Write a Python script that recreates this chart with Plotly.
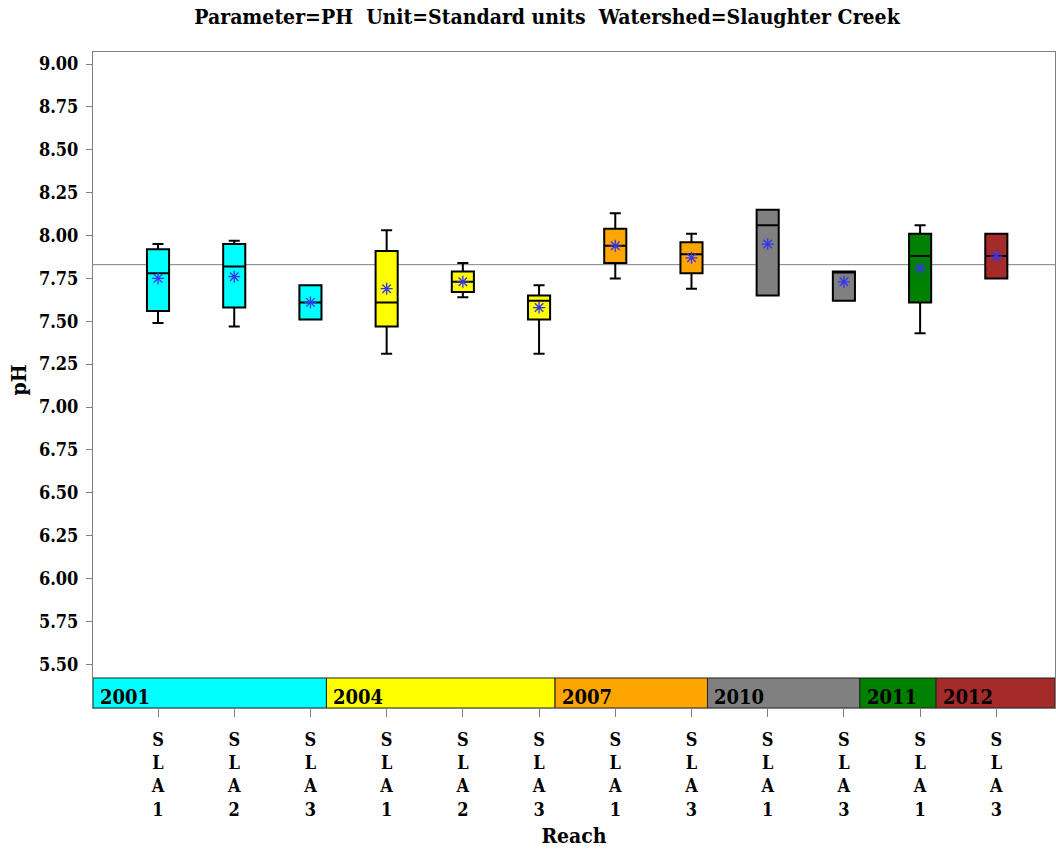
import plotly.graph_objects as go

# Sampling events (year) and reach for each box, left to right
years = ["2001", "2001", "2001", "2004", "2004", "2004",
         "2007", "2007", "2010", "2010", "2011", "2012"]
reaches = ["SLA1", "SLA2", "SLA3", "SLA1", "SLA2", "SLA3",
           "SLA1", "SLA3", "SLA1", "SLA3", "SLA1", "SLA3"]

# pH summary statistics per box
ph_min = [7.49, 7.47, 7.51, 7.31, 7.64, 7.31, 7.75, 7.69, 7.65, 7.62, 7.43, 7.75]
ph_q1 = [7.56, 7.58, 7.51, 7.47, 7.67, 7.51, 7.84, 7.78, 7.65, 7.62, 7.61, 7.75]
ph_median = [7.78, 7.82, 7.61, 7.61, 7.73, 7.62, 7.94, 7.89, 8.06, 7.79, 7.88, 7.88]
ph_q3 = [7.92, 7.95, 7.71, 7.91, 7.79, 7.65, 8.04, 7.96, 8.15, 7.79, 8.01, 8.01]
ph_max = [7.95, 7.97, 7.71, 8.03, 7.84, 7.71, 8.13, 8.01, 8.15, 7.79, 8.06, 8.01]
ph_mean = [7.75, 7.76, 7.61, 7.69, 7.73, 7.58, 7.94, 7.87, 7.95, 7.73, 7.81, 7.88]

# Overall reference level
ref_level = 7.83

year_colors = {
    "2001": "#00FFFF",
    "2004": "#FFFF00",
    "2007": "#FFA500",
    "2010": "#808080",
    "2011": "#008000",
    "2012": "#A52A2A",
}

FONT = "DejaVu Serif Condensed, DejaVu Serif, serif"
positions = list(range(len(reaches)))
x_lo, x_hi = -0.853, 11.77
y_lo, y_hi = 5.245, 9.07
band_top = 5.42
edge_shift = 0.21  # group boundary offset after the last box of each year

fig = go.Figure()

for i, yr in enumerate(years):
    fig.add_trace(go.Box(
        x=[positions[i]],
        lowerfence=[ph_min[i]],
        q1=[ph_q1[i]],
        median=[ph_median[i]],
        q3=[ph_q3[i]],
        upperfence=[ph_max[i]],
        width=0.29,
        whiskerwidth=0.5,
        fillcolor=year_colors[yr],
        line=dict(color="black", width=2),
        showlegend=False,
        hoverinfo="skip",
    ))

fig.add_trace(go.Scatter(
    x=positions, y=ph_mean, mode="markers",
    marker=dict(symbol="asterisk-open", size=10, color="#3535F0",
                line=dict(color="#3535F0", width=1.3)),
    showlegend=False, hoverinfo="skip",
))

shapes = [dict(type="line", xref="x", yref="y", x0=x_lo, x1=x_hi,
               y0=ref_level, y1=ref_level, layer="below",
               line=dict(color="#808080", width=1))]

# Year band along the bottom of the plot
annotations = []
groups = []
for i, yr in enumerate(years):
    if groups and groups[-1][0] == yr:
        groups[-1][2] = i
    else:
        groups.append([yr, i, i])
for g, (yr, first, last) in enumerate(groups):
    left = x_lo if g == 0 else groups[g - 1][2] + edge_shift
    right = x_hi if g == len(groups) - 1 else last + edge_shift
    shapes.append(dict(type="rect", xref="x", yref="y", x0=left, x1=right,
                       y0=y_lo, y1=band_top, fillcolor=year_colors[yr],
                       line=dict(color="#222222", width=1), layer="above"))
    annotations.append(dict(x=left, y=(y_lo + band_top) / 2, xref="x", yref="y",
                            text=yr, showarrow=False, xanchor="left",
                            xshift=5, yshift=-4,
                            font=dict(family=FONT, size=20, color="black",
                                      weight="bold")))

fig.update_layout(
    width=1056, height=854,
    margin=dict(l=93, r=1, t=52, b=146),
    paper_bgcolor="white", plot_bgcolor="white",
    font=dict(family=FONT, color="black"),
    title=dict(text="Parameter=PH  Unit=Standard units  Watershed=Slaughter Creek",
               x=0.518, xanchor="center", y=0.98, yanchor="middle",
               font=dict(family=FONT, size=21, weight="bold")),
    shapes=shapes,
    annotations=annotations,
    showlegend=False,
)

fig.update_xaxes(
    range=[x_lo, x_hi], tickmode="array", tickvals=positions,
    ticktext=["<br>".join(list(r)) for r in reaches],
    ticks="outside", ticklen=8, tickcolor="#808080",
    ticklabelstandoff=7, automargin=False,
    tickfont=dict(family=FONT, size=18, weight="bold"),
    showline=True, linecolor="#808080", mirror=True, showgrid=False, zeroline=False,
    title=dict(text="Reach", font=dict(family=FONT, size=21, weight="bold"), standoff=9),
)
fig.update_yaxes(
    range=[y_lo, y_hi], tickmode="array",
    tickvals=[5.5 + 0.25 * k for k in range(15)],
    ticktext=[f"{5.5 + 0.25 * k:.2f}" for k in range(15)],
    ticks="outside", ticklen=6, tickcolor="#808080", automargin=False,
    ticklabelstandoff=4,
    tickfont=dict(family=FONT, size=18, weight="bold"),
    showline=True, linecolor="#808080", mirror=True, showgrid=False, zeroline=False,
    title=dict(text="pH", font=dict(family=FONT, size=21, weight="bold"), standoff=6),
)

fig.write_html("out.html")
